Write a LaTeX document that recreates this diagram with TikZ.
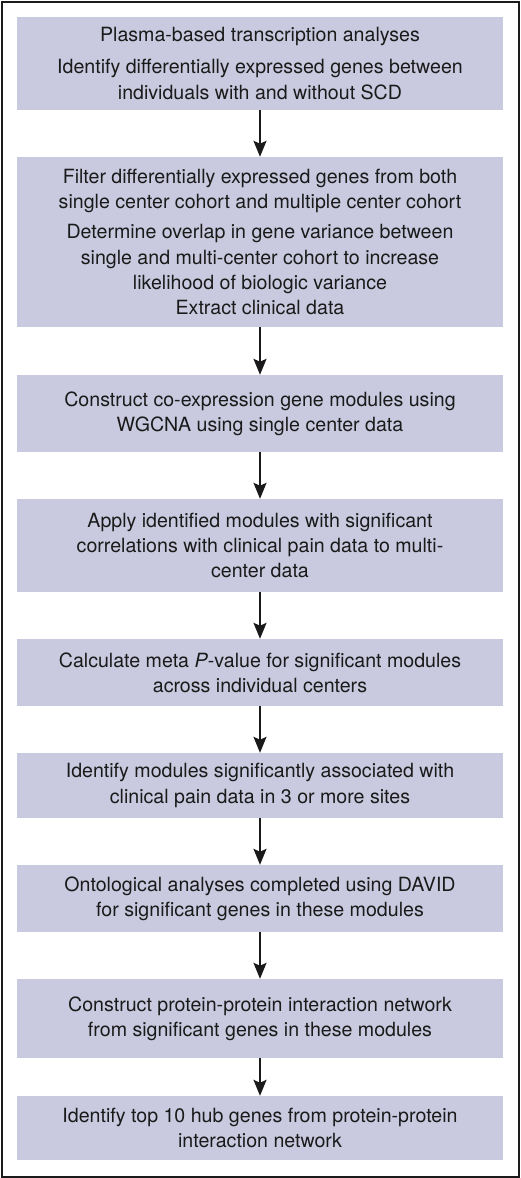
\documentclass[tikz,border=0pt]{standalone}
\usepackage{fontspec}
\setmainfont{TeX Gyre Heros}
\usetikzlibrary{arrows.meta}
\definecolor{boxfill}{RGB}{201,202,223}
\definecolor{ink}{RGB}{26,26,26}
\begin{document}
\begin{tikzpicture}[x=1pt,y=-1pt,
  stepbox/.style={fill=boxfill, draw=none, minimum width=486pt, align=center,
    inner sep=0pt, text=ink, font=\fontsize{19.6}{25.2}\selectfont},
  arr/.style={-{Stealth[width=13pt,length=16pt,inset=3pt]}, line width=2pt, draw=ink}]
\useasboundingbox (0,0) rectangle (520,1178);
\draw[line width=2pt, draw=ink] (1.5,1.5) rectangle (518.5,1176.5);
\node[stepbox, minimum height=93pt] (b1) at (260,63.5) {Plasma-based transcription analyses\\[7pt]Identify differentially expressed genes between\\individuals with and without SCD};
\node[stepbox, minimum height=170pt] (b2) at (260,242) {Filter differentially expressed genes from both\\single center cohort and multiple center cohort\\[5pt]Determine overlap in gene variance between\\single and multi-center cohort to increase\\likelihood of biologic variance\\Extract clinical data};
\node[stepbox, minimum height=77pt] (b3) at (260,413.5) {Construct co-expression gene modules using\\WGCNA using single center data};
\node[stepbox, minimum height=93pt] (b4) at (260,545.5) {Apply identified modules with significant\\correlations with clinical pain data to multi-\\center data};
\node[stepbox, minimum height=67pt] (b5) at (260,672.5) {Calculate meta \textit{P}-value for significant modules\\across individual centers};
\node[stepbox, minimum height=65pt] (b6) at (260,785.5) {Identify modules significantly associated with\\clinical pain data in 3 or more sites};
\node[stepbox, minimum height=67pt] (b7) at (260,898.5) {Ontological analyses completed using DAVID\\for significant genes in these modules};
\node[stepbox, minimum height=79pt] (b8) at (260,1018.5) {Construct protein-protein interaction network\\from significant genes in these modules};
\node[stepbox, minimum height=64pt] (b9) at (260,1128) {Identify top 10 hub genes from protein-protein\\interaction network};
\foreach \a/\b in {b1/b2,b2/b3,b3/b4,b4/b5,b5/b6,b6/b7,b7/b8,b8/b9}
  \draw[arr] (\a.south) -- (\b.north);
\end{tikzpicture}
\end{document}
